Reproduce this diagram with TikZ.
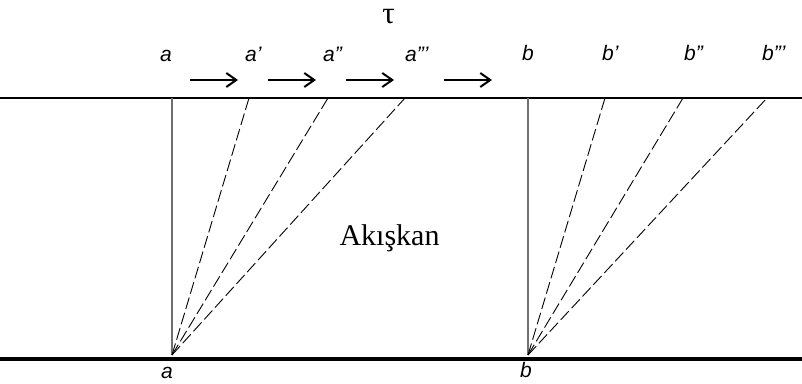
\documentclass[tikz,border=0pt]{standalone}
\usepackage{fontspec}
\setmainfont{Liberation Serif}
\setsansfont{Liberation Sans}
\usetikzlibrary{arrows.meta}
\definecolor{wallgray}{RGB}{112,112,112}

\begin{document}
\begin{tikzpicture}[x=1pt, y=-1pt,
    lbl/.style={font=\sffamily\itshape\fontsize{21}{24}\selectfont, inner sep=0pt, anchor=base west},
    shear/.style={draw=black, line width=0.9pt, dash pattern=on 12pt off 4pt},
    wall/.style={draw=wallgray, line width=2pt},
    flow/.style={draw=black, line width=2pt, -{Straight Barb[length=10pt,width=14pt]}},
  ]
  \useasboundingbox (0,0) rectangle (802,383);
  % plates
  \coordinate (topL) at (0,98);
  \coordinate (topR) at (802,98);
  \coordinate (botL) at (0,358.5);
  \coordinate (botR) at (802,358.5);
  \draw[line width=1.3pt] (topL) -- (topR);
  \draw[line width=4pt] (botL) -- (botR);

  % fixed points on the lower plate
  \coordinate (a0) at (172,355);
  \coordinate (b0) at (528,355);
  \coordinate (a1) at (172,98);
  \coordinate (b1) at (528,98);
  \draw[wall] (a0) -- (a1);
  \draw[wall] (b0) -- (b1);

  % sheared positions
  \foreach \n/\x in {2/249, 3/328, 4/405}
    \coordinate (a\n) at (\x,98);
  \foreach \n/\x in {2/605, 3/683, 4/767}
    \coordinate (b\n) at (\x,98);
  \foreach \n in {2,3,4} {
    \draw[shear] (a0) -- (a\n);
    \draw[shear] (b0) -- (b\n);
  }

  % labels
  \node[lbl] (la)   at (160,61) {a};
  \node[lbl] (la1)  at (245,61) {a’};
  \node[lbl] (la2)  at (323,61) {a”};
  \node[lbl] (la3)  at (405,61) {a”’};
  \node[lbl] (lb)   at (522,60) {b};
  \node[lbl] (lb1)  at (602,60) {b’};
  \node[lbl] (lb2)  at (684,60) {b”};
  \node[lbl] (lb3)  at (762,60) {b”’};
  \node[lbl] (la0)  at (161,378) {a};
  \node[lbl] (lb0)  at (520,377) {b};

  % shear stress
  \node[font=\fontsize{31}{34}\selectfont, inner sep=0pt] (tau) at (388.5,16.5) {τ};
  \foreach \x in {190, 268, 346, 444}
    \draw[flow] (\x,80) -- ++(48,0);

  \node[font=\fontsize{30}{34}\selectfont, inner sep=0pt, anchor=base] (fluid) at (389.5,245) {Akışkan};
\end{tikzpicture}
\end{document}
